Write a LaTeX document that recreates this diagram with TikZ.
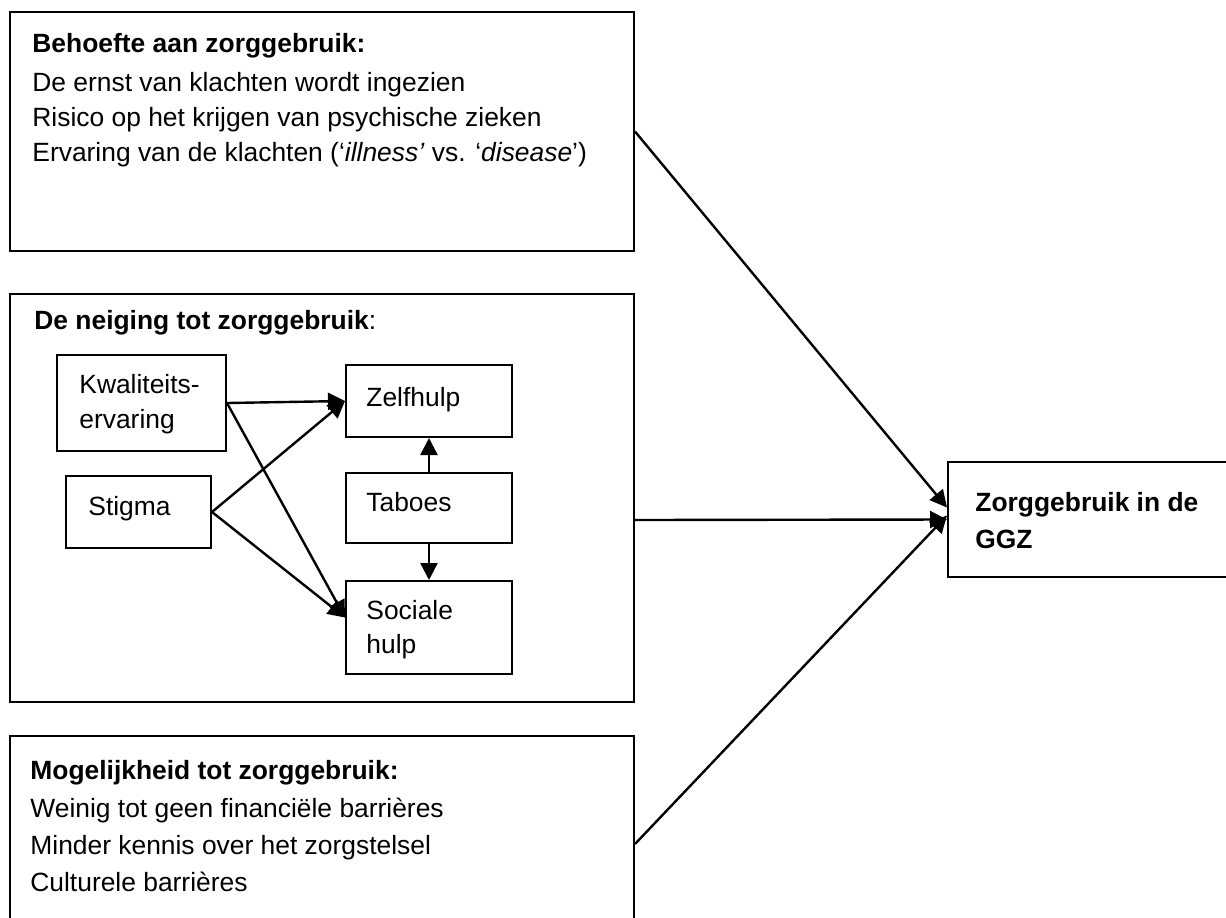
\documentclass[tikz,border=0pt]{standalone}
\usepackage{fontspec}
\setmainfont{Liberation Sans}
\usetikzlibrary{arrows.meta,positioning,calc}
\tikzset{
  kader/.style={draw,line width=1pt,inner sep=0pt},
  tekst/.style={anchor=base west,inner sep=0pt},
  pijl/.style={-{Triangle[length=8.5pt,width=8.5pt]},line width=1.2pt},
}
\begin{document}
\fontsize{13.2}{15.8}\selectfont
\begin{tikzpicture}[x=0.5pt,y=-0.5pt]
  \useasboundingbox (0,0) rectangle (1226,917);
  \fill[white] (0,0) rectangle (1226,917);
  \clip (0,0) rectangle (1226,917);
  % grote kaders
  \node[kader,minimum width=312pt,minimum height=119.5pt] (behoefte) at (322,131.5) {};
  \node[kader,minimum width=312pt,minimum height=204pt] (neiging) at (322,498) {};
  \node[kader,minimum width=312pt,minimum height=112pt] (mogelijk) at (322,848) {};
  \node[kader,minimum width=151pt,minimum height=57.5pt] (zorg) at (1099,519.5) {};
  % kaders binnen de neiging
  \node[kader,minimum width=84.5pt,minimum height=48pt] (kwal) at (141.5,403) {};
  \node[kader,minimum width=72.5pt,minimum height=36pt] (stigma) at (138.5,512) {};
  \node[kader,minimum width=83pt,minimum height=36pt] (zelf) at (429,401) {};
  \node[kader,minimum width=83pt,minimum height=35pt] (taboe) at (429,508) {};
  \node[kader,minimum width=83pt,minimum height=46.5pt] (sociaal) at (429,627.5) {};
  % teksten
  \node[tekst,font=\bfseries] (behoefte-kop) at (32,52) {Behoefte aan zorggebruik:};
  \node[tekst] (behoefte-1) at (32,91) {De ernst van klachten wordt ingezien};
  \node[tekst] (behoefte-2) at (32,126) {Risico op het krijgen van psychische zieken};
  \node[tekst] (behoefte-3) at (32,161) {Ervaring van de klachten (‘\textit{illness’} vs. ‘\textit{disease}’)};
  \node[tekst] (neiging-kop) at (34,329) {\textbf{De neiging tot zorggebruik}:};
  \node[tekst] (kwal-1) at (79,393) {Kwaliteits-};
  \node[tekst] (kwal-2) at (79,428) {ervaring};
  \node[tekst] (stigma-t) at (88,515) {Stigma};
  \node[tekst] (zelf-t) at (366,406) {Zelfhulp};
  \node[tekst] (taboe-t) at (366,511) {Taboes};
  \node[tekst] (sociaal-1) at (366,619) {Sociale};
  \node[tekst] (sociaal-2) at (366,653) {hulp};
  \node[tekst,font=\bfseries] (mogelijk-kop) at (30,779) {Mogelijkheid tot zorggebruik:};
  \node[tekst] (mogelijk-1) at (30,817) {Weinig tot geen financiële barrières};
  \node[tekst] (mogelijk-2) at (30,854) {Minder kennis over het zorgstelsel};
  \node[tekst] (mogelijk-3) at (30,891) {Culturele barrières};
  \node[tekst,font=\bfseries] (zorg-1) at (975,511) {Zorggebruik in de};
  \node[tekst,font=\bfseries] (zorg-2) at (975,548) {GGZ};
  % aangrijppunten
  \coordinate (sociaal-in) at ([yshift=5pt]sociaal.west);
  \coordinate (zorg-boven) at ([yshift=6pt]zorg.west);
  \coordinate (zorg-onder) at ([yshift=2pt]zorg.west);
  \coordinate (neiging-uit) at ([yshift=-11pt]neiging.east);
  \coordinate (mogelijk-uit) at ([yshift=-54.5pt]mogelijk.north east);
  % pijlen
  \draw[pijl] (kwal.east) -- (zelf.west);
  \draw[pijl] (kwal.east) -- (sociaal-in);
  \draw[pijl] (stigma.east) -- (zelf.west);
  \draw[pijl] (stigma.east) -- (sociaal-in);
  \draw[pijl] (taboe.north) -- (zelf.south);
  \draw[pijl] (taboe.south) -- (sociaal.north);
  \draw[pijl] (behoefte.east) -- (zorg-boven);
  \draw[pijl] (neiging-uit) -- (zorg.west);
  \draw[pijl] (mogelijk-uit) -- (zorg-onder);
\end{tikzpicture}
\end{document}
